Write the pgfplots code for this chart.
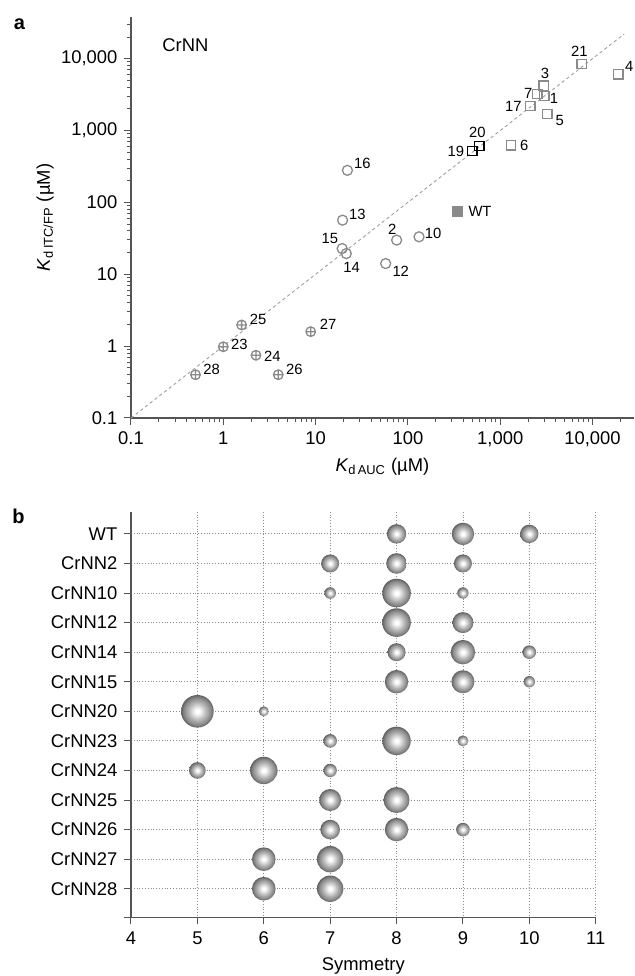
\documentclass[border=0pt]{standalone}
\usepackage{fontspec}
\setmainfont{Liberation Sans}
\usepackage{pgfplots}
\pgfplotsset{compat=1.18}

\definecolor{mk}{HTML}{8A8A8A}
\definecolor{ax}{HTML}{555555}

% sphere look for the bubbles: white centre, darker rim
\pgfdeclareradialshading{sphere}{\pgfpoint{0bp}{0bp}}{color(0bp)=(white); color(3bp)=(white); color(14bp)=(black!30); color(21bp)=(black!47); color(25bp)=(black!62); color(50bp)=(black!62)}
\pgfdeclareplotmark{sphere}{\pgfpathcircle{\pgfpointorigin}{\pgfplotmarksize}\pgfshadepath{sphere}{0}\pgfusepath{}}

\pgfplotsset{
  panel/.style={
    scale only axis, axis lines*=left,
    axis line style={ax, line width=0.6pt},
    tick style={ax, line width=0.5pt},
    tick align=outside, major tick length=3.3pt, minor tick length=1.8pt,
    /pgf/number format/assume math mode=true,
    tick label style={font=\fontsize{9.2}{11}\selectfont},
    label style={font=\fontsize{9.2}{11}\selectfont},
    clip=false,
  },
}
\tikzset{lab/.style={font=\fontsize{7.4}{9}\selectfont, inner sep=0pt}}

\begin{document}
\begin{tikzpicture}[font=\fontsize{9.2}{11}\selectfont]
\useasboundingbox (0,0) rectangle (317.5pt,488pt);
\node[font=\fontsize{10}{12}\selectfont\bfseries] at (9.75pt,476pt) {a};
\node[font=\fontsize{10}{12}\selectfont\bfseries] at (9.25pt,230pt) {b};

% ---- panel a ----
\begin{axis}[panel,
  at={(65.5pt,279pt)}, anchor=south west,
  width=251.4pt, height=200.5pt,
  xmode=log, ymode=log,
  xmin=0.1, xmax=28000, ymin=0.1, ymax=38000,
  xtick={0.1,1,10,100,1000,10000},
  xticklabels={0.1,1,10,100,{1,000},{10,000}},
  ytick={0.1,1,10,100,1000,10000},
  yticklabels={0.1,1,10,100,{1,000},{10,000}},
  minor xtick={0.2,0.3,0.4,0.5,0.6,0.7,0.8,0.9,2,3,4,5,6,7,8,9,20,30,40,50,60,70,80,90,200,300,400,500,600,700,800,900,2000,3000,4000,5000,6000,7000,8000,9000,20000},
  minor ytick={0.2,0.3,0.4,0.5,0.6,0.7,0.8,0.9,2,3,4,5,6,7,8,9,20,30,40,50,60,70,80,90,200,300,400,500,600,700,800,900,2000,3000,4000,5000,6000,7000,8000,9000,20000,30000},
  xlabel={\textit{K}\textsubscript{d\,AUC} (µM)},
  ylabel={\textit{K}\textsubscript{d\,ITC/FP} (µM)},
  x label style={at={(axis description cs:0.5,-0.1222)}, anchor=center},
  y label style={at={(axis description cs:-0.171,0.5)}, anchor=center},
]
\addplot[gray!75, line width=0.45pt, dash pattern=on 1.6pt off 1.4pt] coordinates {(0.1,0.1) (22000,22000)};

% open grey squares: 1 3 4 5 6 7 17 21
\addplot[only marks, mark=square, mark size=2.3pt, draw=mk, line width=0.65pt] table {
x y
3000 3020
2960 4200
19000 6040
3240 1710
1310 621
2520 3220
2120 2190
7640 8440
};
% black squares: 19 20
\addplot[only marks, mark=square, mark size=2.3pt, draw=black, line width=0.65pt] table {
x y
499 517
595 614
};
% WT
\addplot[only marks, mark=square*, mark size=2.6pt, mark options={draw=mk, fill=mk, line width=0.2pt}] table {
x y
340 75.7
};
% circles: 2 10 12 13 14 15 16
\addplot[only marks, mark=o, mark size=2.5pt, draw=mk, line width=0.65pt] table {
x y
75.5 29.9
132 33.2
57.4 14.1
19.6 56.6
21.5 19.4
19.4 22.8
22.1 279
};
% crossed circles: 23 24 25 26 27 28
\addplot[only marks, mark=oplus, mark size=2.4pt, draw=mk, line width=0.65pt] table {
x y
1 0.98
2.26 0.746
1.58 1.97
3.94 0.40
8.85 1.59
0.50 0.40
};

\node[anchor=center] at (axis cs:0.389,15170) {CrNN};
\node[lab] at (axis cs:7190,12650) {21};
\node[lab] at (axis cs:25060,7810) {4};
\node[lab] at (axis cs:3057,6320) {3};
\node[lab] at (axis cs:2015,3327) {7};
\node[lab] at (axis cs:3828,2800) {1};
\node[lab] at (axis cs:1387,2167) {17};
\node[lab] at (axis cs:4414,1383) {5};
\node[lab] at (axis cs:565,941) {20};
\node[lab] at (axis cs:330,507) {19};
\node[lab] at (axis cs:1824,621) {6};
\node[lab] at (axis cs:32.1,345) {16};
\node[lab] at (axis cs:604,75.7) {WT};
\node[lab] at (axis cs:28.3,67.2) {13};
\node[lab] at (axis cs:14.3,31.1) {15};
\node[lab] at (axis cs:24.6,12.4) {14};
\node[lab] at (axis cs:67.8,42.5) {2};
\node[lab] at (axis cs:188,36.5) {10};
\node[lab] at (axis cs:83.6,11.1) {12};
\node[lab] at (axis cs:13.7,2.04) {27};
\node[lab] at (axis cs:2.39,2.39) {25};
\node[lab] at (axis cs:1.49,1.07) {23};
\node[lab] at (axis cs:3.40,0.715) {24};
\node[lab] at (axis cs:5.88,0.481) {26};
\node[lab] at (axis cs:0.748,0.467) {28};
\end{axis}

% ---- panel b ----
\begin{axis}[panel,
  at={(65.5pt,29.15pt)}, anchor=south west,
  width=232.35pt, height=203pt,
  xmin=4, xmax=11, ymin=-0.75, ymax=12.98, y dir=reverse,
  xtick={4,5,6,7,8,9,10,11},
  ytick={0,1,2,3,4,5,6,7,8,9,10,11,12},
  yticklabels={WT,CrNN2,CrNN10,CrNN12,CrNN14,CrNN15,CrNN20,CrNN23,CrNN24,CrNN25,CrNN26,CrNN27,CrNN28},
  extra y ticks={12.98}, extra y tick labels={}, extra tick style={grid=none},
  grid=major, major grid style={densely dotted, black!45, line width=0.4pt},
  xlabel={Symmetry},
  x label style={at={(axis description cs:0.5,-0.1192)}, anchor=center},
]
\addplot[scatter, only marks, mark=sphere,
  visualization depends on={\thisrow{r}\as\rr},
  scatter/@pre marker code/.append style={/tikz/mark size={0.5pt*\rr}}] table {
x y r
8 0 9.7
9 0 11.2
10 0 9.2
7 1 9
8 1 10.3
9 1 9
7 2 5.8
8 2 14.3
9 2 5.7
8 3 14.3
9 3 10.5
8 4 9
9 4 12.2
10 4 6.8
8 5 11.7
9 5 11.5
10 5 5.7
5 6 16.3
6 6 5
7 7 6.8
8 7 14.2
9 7 5.5
5 8 8.3
6 8 13.7
7 8 6.7
7 9 11
8 9 13
7 10 9.8
8 10 11.7
9 10 6.8
6 11 11.8
7 11 13.2
6 12 11.8
7 12 13.2
};
\end{axis}
\end{tikzpicture}
\end{document}
